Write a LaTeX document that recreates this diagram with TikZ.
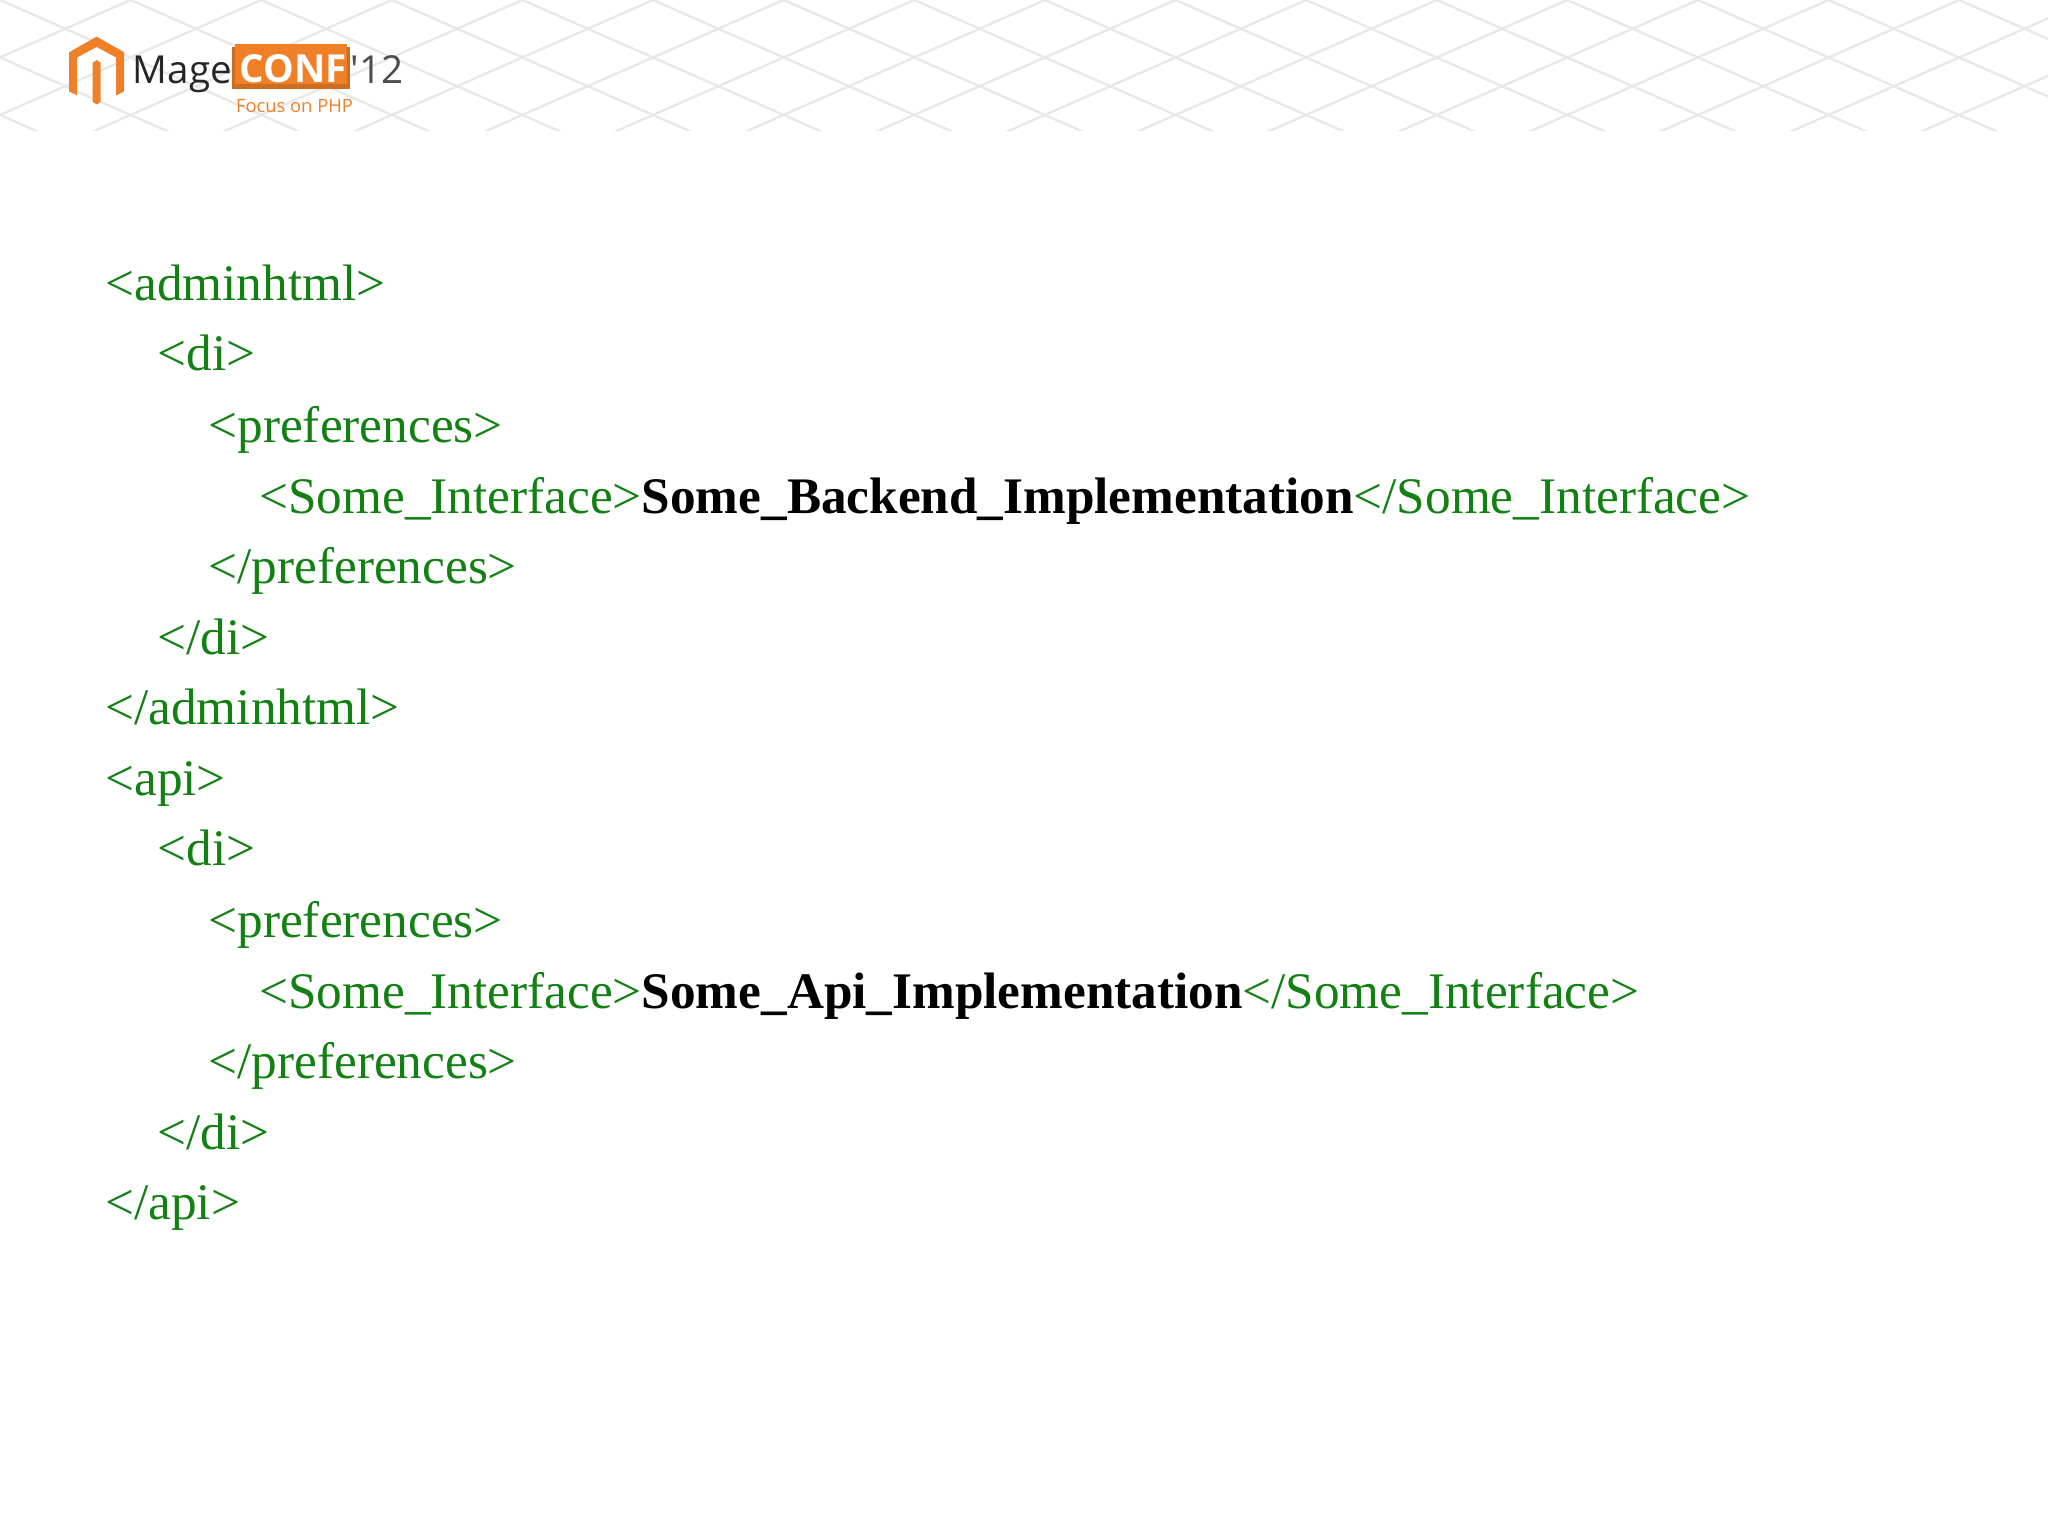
\documentclass[tikz,border=0pt]{standalone}
\usepackage{fontspec}
\setmainfont{Liberation Serif}
\newfontfamily\logofont{Open Sans}
\definecolor{xmlgreen}{RGB}{18,128,18}
\definecolor{mageorange}{RGB}{240,128,40}
\begin{document}
\begin{tikzpicture}[x=0.01cm,y=-0.01cm,
  code/.style={anchor=base west,inner sep=0pt,font=\fontsize{11.16pt}{13pt}\selectfont,text=xmlgreen}]
\useasboundingbox (0,0) rectangle (1568,1176);
\fill[white] (0,0) rectangle (1568,1176);
% header pattern
\begin{scope}
\clip (0,0) rectangle (1568,100);
\foreach \i in {-10,...,20}{
  \draw[black!9,line width=0.5pt] (\i*100,0) -- ++(250,110);
  \draw[black!9,line width=0.5pt] (\i*100,0) -- ++(-250,110);
}
\end{scope}
% logo
\fill[mageorange] (74,28) -- (95,40) -- (95,70) -- (89,73) -- (89,44) -- (74,36) -- (59,44) -- (59,73) -- (53,70) -- (53,40) -- cycle;
\fill[mageorange] (71,48) -- (74,46) -- (77,48) -- (77,78) -- (74,80) -- (71,78) -- cycle;
\node[anchor=base west,inner sep=0pt,font=\logofont\fontsize{8.4pt}{10pt}\selectfont,text=black!85] (mage) at (101,64) {Mage};
\fill[mageorange!85!black] (178,36) rectangle (268,68);
\fill[mageorange] (180,34) rectangle (266,64);
\node[anchor=base west,inner sep=0pt,font=\logofont\bfseries\fontsize{8.4pt}{10pt}\selectfont,text=white] (conf) at (183,63) {CONF};
\node[anchor=base west,inner sep=0pt,font=\logofont\fontsize{8.4pt}{10pt}\selectfont,text=black!70] (yr) at (268,64) {'12};
\node[anchor=base west,inner sep=0pt,font=\logofont\fontsize{4pt}{5pt}\selectfont,text=mageorange] (focus) at (180,86) {Focus on PHP};
% code
\node[code] (l1) at (80,230) {<adminhtml>};
\node[code] (l2) at (120,284) {<di>};
\node[code] (l3) at (159,339) {<preferences>};
\node[code] (l4) at (198,393) {<Some\_Interface>\textcolor{black}{\textbf{Some\_Backend\_Implementation}}</Some\_Interface>};
\node[code] (l5) at (159,447) {</preferences>};
\node[code] (l6) at (120,501) {</di>};
\node[code] (l7) at (80,555) {</adminhtml>};
\node[code] (l8) at (80,609) {<api>};
\node[code] (l9) at (120,663) {<di>};
\node[code] (l10) at (159,718) {<preferences>};
\node[code] (l11) at (198,772) {<Some\_Interface>\textcolor{black}{\textbf{Some\_Api\_Implementation}}</Some\_Interface>};
\node[code] (l12) at (159,826) {</preferences>};
\node[code] (l13) at (120,880) {</di>};
\node[code] (l14) at (80,934) {</api>};
\end{tikzpicture}
\end{document}
